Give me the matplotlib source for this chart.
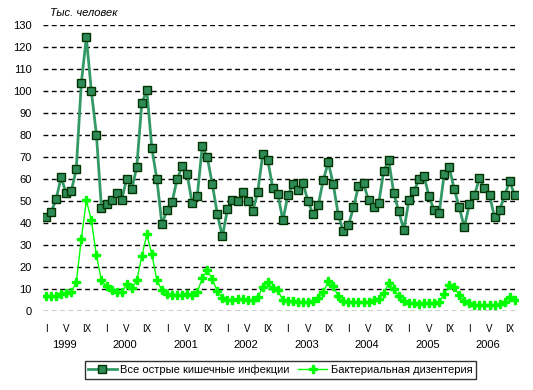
import numpy as np
import matplotlib
matplotlib.use("Agg")
import matplotlib.pyplot as plt

plt.rcParams['font.family'] = ['Liberation Sans', 'DejaVu Sans']

# monthly data, Jan 1999 - Oct 2006, thousand people
all_infections = [
    42.6, 44.8, 50.8, 60.8, 53.5, 54.4, 64.4, 103.5, 124.4, 99.8, 80.2, 46.7,
    48.5, 50.3, 53.5, 50.3, 60.2, 55.3, 65.3, 94.4, 100.3, 73.9, 59.8, 39.4,
    45.8, 49.4, 59.8, 65.8, 62.1, 48.9, 52.1, 74.8, 69.8, 57.6, 43.9, 33.9,
    46.2, 50.3, 49.8, 53.9, 49.8, 45.3, 53.9, 71.2, 68.5, 55.8, 53.0, 41.2,
    52.6, 57.6, 54.8, 58.0, 49.8, 43.9, 48.0, 59.4, 67.6, 57.6, 43.5, 36.2,
    38.9, 47.1, 56.7, 58.0, 50.3, 47.1, 48.9, 63.5, 68.5, 53.5, 45.3, 36.7,
    50.3, 54.4, 59.8, 61.2, 52.1, 45.8, 44.4, 62.1, 65.3, 55.3, 47.1, 38.0,
    48.5, 52.6, 60.3, 55.8, 52.6, 42.6, 45.8, 52.6, 58.9, 52.6,
]
dysentery = [
    6.7, 6.7, 6.7, 7.6, 8.0, 8.5, 13.0, 32.6, 50.3, 41.2, 25.3, 13.9,
    11.2, 9.4, 8.5, 8.5, 12.1, 10.3, 13.9, 24.8, 34.8, 25.8, 13.9, 9.4,
    7.6, 7.1, 7.1, 7.1, 7.6, 7.1, 8.5, 14.8, 18.5, 14.4, 8.9, 5.8,
    4.8, 4.8, 5.3, 5.3, 4.8, 4.8, 6.2, 10.8, 13.0, 10.3, 9.4, 4.8,
    4.4, 4.4, 3.9, 3.9, 3.9, 4.4, 5.8, 8.5, 13.5, 11.2, 6.7, 4.4,
    3.9, 3.9, 3.9, 3.9, 3.9, 4.8, 5.3, 8.0, 12.6, 9.8, 6.7, 4.4,
    3.5, 3.5, 3.0, 3.5, 3.5, 3.5, 3.9, 7.6, 11.7, 10.8, 7.1, 4.4,
    3.5, 2.6, 2.6, 2.6, 2.6, 2.6, 3.0, 3.9, 6.2, 4.8,
]
years = ['1999', '2000', '2001', '2002', '2003', '2004', '2005', '2006']
month_labels = ['I', 'V', 'IX']

x = np.arange(len(all_infections))

fig = plt.figure(figsize=(5.33, 3.9), dpi=100)
ax = fig.add_axes([43/533, 79/390, 475/533, 286/390])

# dashed grid
for v in range(0, 131, 10):
    ax.axhline(v, color='black', lw=1.0, ls=(0, (3.5, 2.5)), zorder=0)

ax.plot(x, all_infections, color='#339966', lw=2, marker='s', markersize=5.5,
        markerfacecolor='#2E8B57', markeredgecolor='#003300', markeredgewidth=1,
        label='Все острые кишечные инфекции', zorder=3)
ax.plot(x, dysentery, color='#00FF00', lw=1, marker='P', markersize=6,
        markerfacecolor='#00FF00', markeredgecolor='#00FF00',
        label='Бактериальная дизентерия', zorder=2)

ax.set_xlim(-0.6, 93.65)
ax.set_ylim(0, 130)
for s in ax.spines.values():
    s.set_visible(False)

ax.set_yticks(range(0, 131, 10))
ax.tick_params(axis='y', length=0, pad=8, labelsize=8)

ticks = []
tlabels = []
for k in range(len(years)):
    for j, m in enumerate(month_labels):
        ticks.append(12 * k + 4 * j)
        tlabels.append(m)
ax.set_xticks(ticks)
ax.set_xticklabels(tlabels, fontsize=7)
ax.tick_params(axis='x', length=0, pad=9)

for k, yr in enumerate(years):
    ax.text(12 * k + 3.7, -0.118, yr, transform=ax.get_xaxis_transform(),
            ha='center', va='center', fontsize=8)

fig.text(50/533, 1 - 13/390, 'Тыс. человек', style='italic', fontsize=8,
         ha='left', va='center')

leg = ax.legend(loc='center', bbox_to_anchor=(280/533, 1 - 370/390),
                bbox_transform=fig.transFigure, ncol=2, fontsize=8,
                frameon=True, fancybox=False, edgecolor='black',
                handlelength=2.6, handletextpad=0.3, columnspacing=0.8,
                borderpad=0.3, borderaxespad=0)
leg.get_frame().set_linewidth(1)

fig.savefig('out.png', dpi=100)
